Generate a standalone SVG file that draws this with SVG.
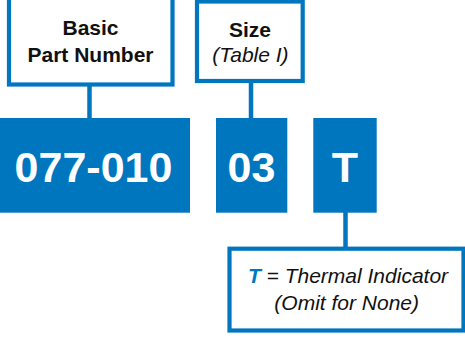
<svg xmlns="http://www.w3.org/2000/svg" width="465" height="339" viewBox="0 0 465 339">
<style>
.frame{fill:#ffffff;stroke:#0076BF;stroke-width:4.2}
.fill{fill:#0076BF}
.conn{stroke:#0076BF;stroke-width:4.5;fill:none}
.lbl{font-family:"Liberation Sans",Arial,sans-serif;font-size:21px;fill:#111111;text-anchor:middle}
.b{font-weight:bold}
.i{font-style:italic}
.big{font-family:"Liberation Sans",Arial,sans-serif;font-size:43px;font-weight:bold;fill:#ffffff;text-anchor:middle}
</style>
<rect width="465" height="339" fill="#ffffff"/>
<g id="connectors">
<line class="conn" x1="89.5" y1="84" x2="89.5" y2="119"/>
<line class="conn" x1="251" y1="81" x2="251" y2="119"/>
<line class="conn" x1="345.5" y1="212" x2="345.5" y2="249"/>
</g>
<g id="basic-part-number">
<rect class="frame" x="9" y="-10" width="163.5" height="94.5"/>
<text class="lbl b" x="90.5" y="35">Basic</text>
<text class="lbl b" x="90.5" y="62">Part Number</text>
</g>
<g id="size">
<rect class="frame" x="197" y="1.5" width="105.7" height="79.5"/>
<text class="lbl b" x="250" y="36.5">Size</text>
<text class="lbl i" x="250.5" y="62">(Table I)</text>
</g>
<g id="part-077-010">
<rect class="fill" x="0" y="118" width="190" height="94.7"/>
<text class="big" x="93.5" y="181.5">077-010</text>
</g>
<g id="part-03">
<rect class="fill" x="216" y="118" width="71.3" height="94.7"/>
<text class="big" x="251.5" y="181.5">03</text>
</g>
<g id="part-T">
<rect class="fill" x="313.3" y="118" width="63.4" height="94.7"/>
<text class="big" x="345" y="181.5">T</text>
</g>
<g id="thermal-indicator">
<rect class="frame" x="229.5" y="248.7" width="234" height="81.8"/>
<text class="lbl i" x="348" y="283"><tspan class="b" fill="#0076BF">T</tspan> = Thermal Indicator</text>
<text class="lbl i" x="346.7" y="310">(Omit for None)</text>
</g>
</svg>
